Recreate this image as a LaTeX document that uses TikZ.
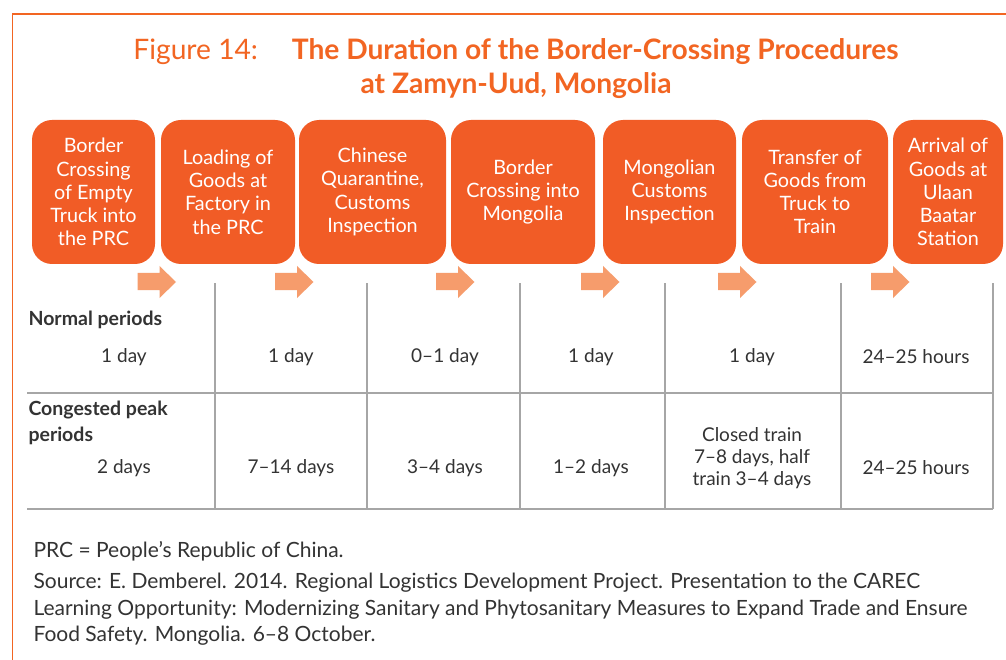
\documentclass[tikz,border=0pt]{standalone}
\usepackage{fontspec}
\setmainfont{Lato}
\definecolor{frameor}{HTML}{F26522}
\definecolor{boxor}{HTML}{F15C26}
\definecolor{arrowor}{HTML}{F69C6C}
\definecolor{gridgray}{HTML}{A6A6A6}
\definecolor{txtgray}{HTML}{333333}
\begin{document}
\begin{tikzpicture}[x=1pt,y=-1pt,
  procbox/.style={fill=boxor,rounded corners=20pt},
  boxtext/.style={text=white,align=center,font=\fontsize{19.8}{23.2}\selectfont},
  flowarrow/.style={fill=arrowor},
  gridline/.style={draw=gridgray,line width=1.3pt},
  celltext/.style={text=txtgray,align=center,font=\fontsize{19}{22}\selectfont},
  rowhead/.style={text=txtgray,anchor=west,align=left,font=\fontsize{19.5}{26}\selectfont\bfseries},
  foot/.style={text=txtgray,anchor=west,font=\fontsize{21}{21}\selectfont}]
\useasboundingbox (0,0) rectangle (1006,660);
\fill[white] (0,0) rectangle (1006,660);
% frame
\draw[frameor,line width=1.8pt] (12.5,660) -- (12.5,14) -- (1006,14);
% title
\node[text=frameor,font=\fontsize{28.2}{34}\selectfont,align=center] (title) at (516,69)
  {Figure 14:\hspace{1.2em}\textbf{The Duration of the Border-Crossing Procedures}\\\textbf{at Zamyn-Uud, Mongolia}};
% boxes
\foreach \n/\a/\b in {1/32/155,2/161/295,3/299/446,4/451/595,5/603/736,6/742/888,7/893/1003}{
  \fill[procbox] (\a,120) rectangle (\b,264);
}
\node[boxtext] (b1) at (93.5,192) {Border\\Crossing\\of Empty\\Truck into\\the PRC};
\node[boxtext] (b2) at (228,192) {Loading of\\Goods at\\Factory in\\the PRC};
\node[boxtext] (b3) at (372.5,192) {Chinese\\Quarantine,\\Customs\\Inspection};
\node[boxtext] (b4) at (523,192) {Border\\Crossing into\\Mongolia};
\node[boxtext] (b5) at (669.5,192) {Mongolian\\Customs\\Inspection};
\node[boxtext] (b6) at (815,192) {Transfer of\\Goods from\\Truck to\\Train};
\node[boxtext] (b7) at (948,192) {Arrival of\\Goods at\\Ulaan\\Baatar\\Station};
% arrows
\foreach \x in {137.5,275,436,581,718,871}{
  \fill[flowarrow] (\x,273) -- (\x+22,273) -- (\x+22,266) -- (\x+38.5,282) -- (\x+22,298) -- (\x+22,290) -- (\x,290) -- cycle;
}
% grid
\draw[gridline] (27,393) -- (993,393);
\draw[gridline] (27,509) -- (993,509);
\foreach \x in {215,367,520,665,841}{
  \draw[gridline] (\x,283) -- (\x,509);
}
\draw[gridline] (993,283) -- (993,509);
% row heads
\node[rowhead] (r1) at (25,320) {Normal periods};
\node[rowhead] (r2) at (25,423) {Congested peak\\periods};
% cells row 1
\node[celltext] (n1) at (124,357) {1 day};
\node[celltext] (n2) at (291,357) {1 day};
\node[celltext] (n3) at (445,357) {0–1 day};
\node[celltext] (n4) at (591,357) {1 day};
\node[celltext] (n5) at (752,357) {1 day};
\node[celltext] (n6) at (916,357) {24–25 hours};
% cells row 2
\node[celltext] (c1) at (124,468) {2 days};
\node[celltext] (c2) at (291,468) {7–14 days};
\node[celltext] (c3) at (445,468) {3–4 days};
\node[celltext] (c4) at (591,468) {1–2 days};
\node[celltext] (c5) at (752,458) {Closed train\\7–8 days, half\\train 3–4 days};
\node[celltext] (c6) at (916,468) {24–25 hours};
% footnotes
\node[foot] (f1) at (30,551) {PRC = People’s Republic of China.};
\node[foot] (f2) at (30,583) {Source: E. Demberel. 2014. Regional Logistics Development Project. Presentation to the CAREC};
\node[foot] (f3) at (30,610) {Learning Opportunity: Modernizing Sanitary and Phytosanitary Measures to Expand Trade and Ensure};
\node[foot] (f4) at (30,636) {Food Safety. Mongolia. 6–8 October.};
\end{tikzpicture}
\end{document}
